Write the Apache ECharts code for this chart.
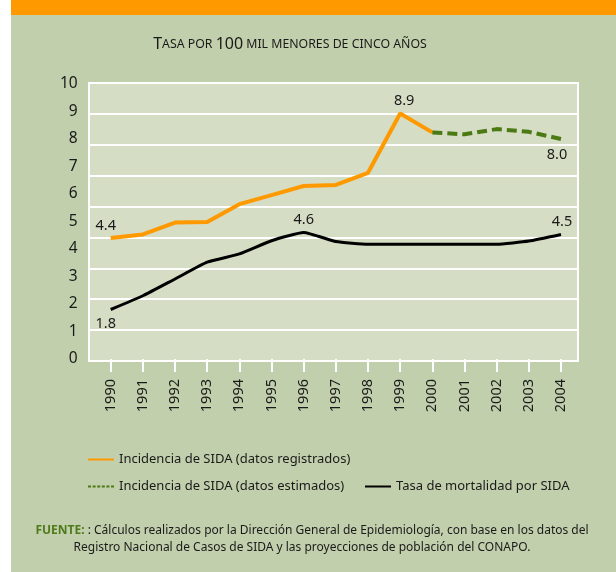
<!DOCTYPE html>
<html>
<head>
<meta charset="utf-8">
<script src="https://cdn.jsdelivr.net/npm/echarts@6/dist/echarts.min.js"></script>
<style>
html,body{margin:0;padding:0;background:#fff;}
#c{width:616px;height:572px;}
</style>
</head>
<body>
<div id="c"></div>
<script>
// ---- data ----
var years = ['1990','1991','1992','1993','1994','1995','1996','1997','1998','1999','2000','2001','2002','2003','2004'];
var incidenciaRegistrada = [4.4, 4.53, 4.96, 4.98, 5.63, 5.96, 6.29, 6.33, 6.77, 8.93, 8.24, null, null, null, null];
var incidenciaEstimada = [null, null, null, null, null, null, null, null, null, null, 8.24, 8.17, 8.36, 8.26, 8.0];
var mortalidad = [1.8, 2.3, 2.91, 3.52, 3.82, 4.3, 4.6, 4.27, 4.17, 4.17, 4.17, 4.17, 4.17, 4.29, 4.53];
var yTicks = [0,1,2,3,4,5,6,7,8,9,10];
var names = ['Incidencia de SIDA (datos registrados)', 'Incidencia de SIDA (datos estimados)', 'Tasa de mortalidad por SIDA'];

var FONT = 'Noto Sans';
var TXT = '#1a1a1a';

function withLabels(arr, labels) {
  return arr.map(function (v, i) {
    if (labels[i]) {
      return { value: v, label: Object.assign({ show: true, fontSize: 14.5, color: TXT, fontFamily: FONT,
        formatter: function (p) { return Number(p.value).toFixed(1); } }, labels[i]) };
    }
    return v;
  });
}

var dashIcon = 'path://M0,0h3v2h-3z M4.6,0h3v2h-3z M9.2,0h3v2h-3z M13.8,0h3v2h-3z M18.4,0h3v2h-3z M23,0h3v2h-3z';
var lineIcon = 'path://M0,0h26v2h-26z';

var chart = echarts.init(document.getElementById('c'), null, { renderer: 'canvas' });
var option = {
  backgroundColor: '#C2CFAC',
  animation: false,
  textStyle: { fontFamily: FONT },
  graphic: [
    { type: 'rect', left: 0, top: 0, shape: { width: 11, height: 572 }, style: { fill: '#ffffff' }, z: -1 },
    { type: 'rect', left: 11, top: 0, shape: { width: 605, height: 15 }, style: { fill: '#FF9900' }, z: -1 },
    { type: 'text', x: 290, y: 44, style: {
        text: '{b|T}{s|ASA POR }{b|100}{s| MIL MENORES DE CINCO AÑOS}',
        align: 'center', verticalAlign: 'middle',
        rich: {
          b: { fontSize: 16, fontFamily: FONT, fill: TXT, color: TXT },
          s: { fontSize: 12.3, fontFamily: FONT, fill: TXT, color: TXT }
        }
      } },
    { type: 'text', x: 312, y: 531, style: {
        text: '{g|FUENTE:} : Cálculos realizados por la Dirección General de Epidemiología, con base en los datos del',
        align: 'center', verticalAlign: 'middle', fontSize: 12, fontFamily: FONT, fill: TXT,
        rich: { g: { fontSize: 12, fontWeight: 'bold', fontFamily: FONT, fill: '#4E7A1A', color: '#4E7A1A' } }
      } },
    { type: 'text', x: 302, y: 548, style: {
        text: 'Registro Nacional de Casos de SIDA y las proyecciones de población del CONAPO.',
        align: 'center', verticalAlign: 'middle', fontSize: 12, fontFamily: FONT, fill: TXT
      } }
  ],
  legend: [
    { data: [{ name: names[0], icon: lineIcon, itemStyle: { color: '#FF9900' } }], left: 88, top: 453, padding: 0, itemWidth: 26, itemHeight: 2,
      textStyle: { fontSize: 13, color: TXT, fontFamily: FONT } },
    { data: [{ name: names[1], icon: dashIcon, itemStyle: { color: '#4C7A12' } }], left: 88, top: 480, padding: 0, itemWidth: 26, itemHeight: 2,
      textStyle: { fontSize: 13, color: TXT, fontFamily: FONT } },
    { data: [{ name: names[2], icon: lineIcon, itemStyle: { color: '#000000' } }], left: 365, top: 480, padding: 0, itemWidth: 26, itemHeight: 2,
      textStyle: { fontSize: 13, color: TXT, fontFamily: FONT } }
  ],
  grid: [
    { left: 89, top: 83, width: 489, height: 278, show: true, backgroundColor: '#D5DDC5', borderColor: '#ffffff', borderWidth: 2 },
    { left: 110.7, top: 84, width: 450.3, height: 275 }
  ],
  xAxis: [
    { type: 'category', gridIndex: 0, data: years, show: false },
    { type: 'category', gridIndex: 1, data: years, boundaryGap: false,
      axisLine: { show: false },
      axisTick: { show: true, length: 13, lineStyle: { color: '#ffffff', width: 2 } },
      axisLabel: { rotate: 90, margin: 20, fontSize: 14.5, color: TXT, fontFamily: FONT, interval: 0 },
      splitLine: { show: false } }
  ],
  yAxis: [
    { type: 'value', gridIndex: 0, min: 0, max: 9, interval: 1,
      axisLine: { show: false }, axisTick: { show: false }, axisLabel: { show: false },
      splitLine: { show: true, lineStyle: { color: '#ffffff', width: 2 } } },
    { type: 'value', gridIndex: 1, min: yTicks[0], max: yTicks[yTicks.length - 1], interval: 1,
      axisLine: { show: false }, axisTick: { show: false }, splitLine: { show: false },
      axisLabel: { margin: 33, fontSize: 15.5, color: TXT, fontFamily: FONT } }
  ],
  series: [
    { name: names[0], type: 'line', xAxisIndex: 1, yAxisIndex: 1, symbol: 'circle', symbolSize: 0, showSymbol: true, showAllSymbol: true,
      connectNulls: false, lineStyle: { color: '#FF9900', width: 4 }, itemStyle: { color: '#FF9900' },
      data: withLabels(incidenciaRegistrada, { 0: { position: 'top', offset: [-5, 0] }, 9: { position: 'top', offset: [4, 0] } }), z: 3 },
    { name: names[1], type: 'line', xAxisIndex: 1, yAxisIndex: 1, symbol: 'circle', symbolSize: 0, showSymbol: true, showAllSymbol: true,
      lineStyle: { color: '#4C7A12', width: 4, type: [10, 5] }, itemStyle: { color: '#4C7A12' },
      data: withLabels(incidenciaEstimada, { 14: { position: 'bottom', offset: [-4, 3] } }), z: 3 },
    { name: names[2], type: 'line', xAxisIndex: 1, yAxisIndex: 1, symbol: 'circle', symbolSize: 0, showSymbol: true, showAllSymbol: true,
      smooth: 0.15, lineStyle: { color: '#000000', width: 3 }, itemStyle: { color: '#000000' },
      data: withLabels(mortalidad, { 0: { position: 'bottom', offset: [-5, 2] }, 6: { position: 'top' }, 14: { position: 'top', offset: [1, 0] } }), z: 3 }
  ]
};
chart.setOption(option);
</script>
</body>
</html>
